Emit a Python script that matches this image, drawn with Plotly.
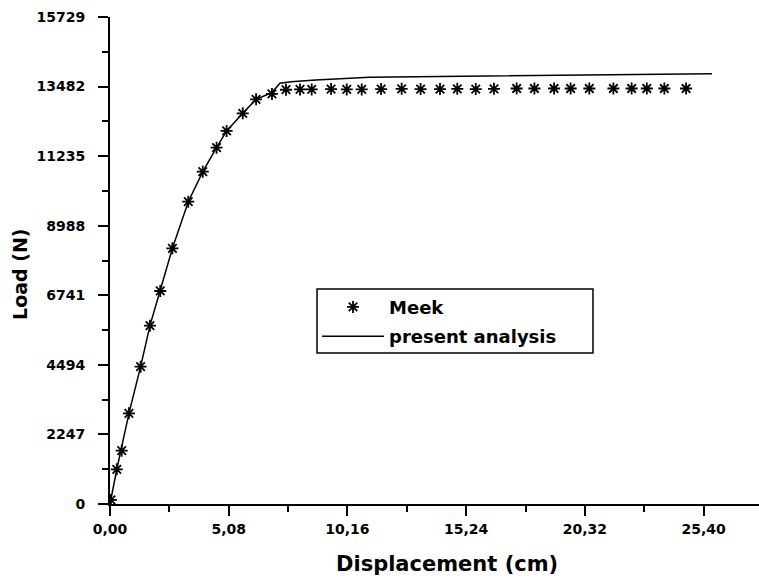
import plotly.graph_objects as go

# Meek experimental load-displacement points
meek_disp = [0.04, 0.29, 0.50, 0.81, 1.31, 1.71, 2.15, 2.67, 3.35, 3.97, 4.56, 4.99,
             5.68, 6.25, 6.93, 7.53, 8.13, 8.63, 9.46, 10.13, 10.77, 11.60, 12.48,
             13.29, 14.12, 14.86, 15.65, 16.43, 17.40, 18.16, 19.00, 19.71, 20.51,
             21.54, 22.32, 22.97, 23.72, 24.65]
meek_load = [130, 1121, 1722, 2929, 4436, 5760, 6880, 8258, 9765, 10734, 11509, 12048,
             12619, 13071, 13243, 13380, 13390, 13390, 13400, 13390, 13390, 13400, 13410,
             13400, 13400, 13410, 13400, 13410, 13420, 13420, 13420, 13420, 13420,
             13420, 13420, 13420, 13420, 13420]

# Present analysis curve
fem_disp = [0.0, 0.29, 0.81, 1.31, 1.71, 2.15, 2.67, 3.35, 3.97, 4.56, 4.99, 5.68,
            6.25, 6.93, 7.27, 7.75, 8.80, 11.10, 18.00, 24.50, 25.76]
fem_load = [0, 1121, 2929, 4436, 5760, 6880, 8258, 9765, 10734, 11509, 12048, 12619,
            13071, 13290, 13588, 13640, 13695, 13782, 13834, 13899, 13900]

x_ticks = [0.0, 5.08, 10.16, 15.24, 20.32, 25.40]
x_labels = ["0,00", "5,08", "10,16", "15,24", "20,32", "25,40"]
y_ticks = [0, 2247, 4494, 6741, 8988, 11235, 13482, 15729]
y_labels = ["0", "2247", "4494", "6741", "8988", "11235", "13482", "15729"]

FONT = "DejaVu Sans"
BOLD = dict(family=FONT, color="black", weight="bold")

fig = go.Figure()
fig.add_trace(go.Scatter(
    x=meek_disp, y=meek_load, mode="markers", name="Meek", legendgroup="meek",
    marker=dict(symbol="asterisk-open", size=10, color="black",
                line=dict(width=1.8, color="black")),
))
fig.add_trace(go.Scatter(
    x=fem_disp, y=fem_load, mode="lines", name="present analysis", legendgroup="fem",
    line=dict(color="black", width=1.5),
))

axis_common = dict(
    showline=True, linecolor="black", linewidth=2,
    ticks="outside", ticklen=10, tickwidth=2, tickcolor="black",
    showgrid=False, zeroline=False,
    tickfont=dict(size=14, **BOLD),
)

fig.update_xaxes(
    range=[0, 27.77], tickmode="array", tickvals=x_ticks, ticktext=x_labels,
    minor=dict(ticks="outside", ticklen=6, tickwidth=2, tickcolor="black",
               tickmode="linear", tick0=2.54, dtick=5.08),
    ticklabelstandoff=1,
    **axis_common,
)
fig.update_yaxes(
    range=[0, 15729], tickmode="array", tickvals=y_ticks, ticktext=y_labels,
    minor=dict(ticks="outside", ticklen=6, tickwidth=2, tickcolor="black",
               tickmode="linear", tick0=1123.5, dtick=2247),
    ticklabelstandoff=10,
    **axis_common,
)

# Axis titles
fig.add_annotation(text="Displacement (cm)", xref="paper", yref="paper",
                   x=0.52, y=-0.1232, xanchor="center", yanchor="middle",
                   showarrow=False, font=dict(size=21, **BOLD))
fig.add_annotation(text="Load (N)", xref="paper", yref="paper",
                   x=-0.1387, y=0.4723, xanchor="center", yanchor="middle",
                   textangle=-90, showarrow=False, font=dict(size=19, **BOLD))

# Legend frame
fig.add_shape(type="rect", xref="paper", yref="paper",
              x0=0.3190, x1=0.7442, y0=0.3101, y1=0.4415,
              line=dict(color="black", width=1.5), fillcolor="white", layer="above")

fig.update_layout(
    width=759, height=579,
    margin=dict(l=110, r=0, t=17, b=75),
    paper_bgcolor="white", plot_bgcolor="white",
    showlegend=True,
    legend=dict(
        x=0.3190, y=0.4421, xanchor="left", yanchor="top",
        bgcolor="rgba(0,0,0,0)", borderwidth=0,
        font=dict(size=18, **BOLD),
        itemwidth=62, tracegroupgap=3,
    ),
)

fig.write_html("out.html")
